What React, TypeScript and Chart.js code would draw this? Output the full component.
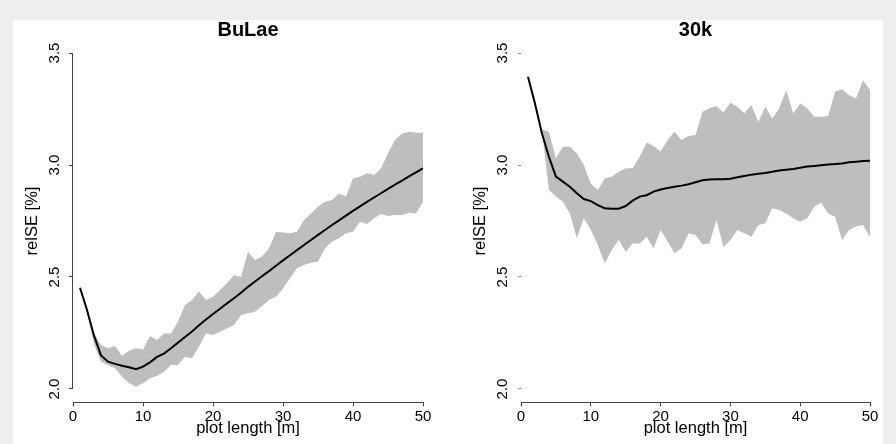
import React, { useEffect, useRef } from "react";
import { Chart, registerables } from "chart.js";

Chart.register(...registerables);

const PLOT_LENGTH = Array.from({ length: 50 }, (_, i) => i + 1);

const X_TICKS = [0, 10, 20, 30, 40, 50];
const Y_TICKS = [2.0, 2.5, 3.0, 3.5];

const BULAE_MEAN = [
  2.452, 2.353, 2.238, 2.15, 2.122, 2.112, 2.104, 2.097, 2.088, 2.1,
  2.119, 2.143, 2.158, 2.182, 2.207, 2.232, 2.257, 2.284, 2.31, 2.335,
  2.358, 2.382, 2.405, 2.43, 2.456, 2.48, 2.503, 2.526, 2.55, 2.574,
  2.597, 2.62, 2.643, 2.665, 2.688, 2.71, 2.732, 2.753, 2.774, 2.795,
  2.815, 2.835, 2.855, 2.874, 2.893, 2.912, 2.93, 2.949, 2.967, 2.985,
];
const BULAE_MAX = [
  2.452, 2.36, 2.249, 2.196, 2.182, 2.192, 2.147, 2.171, 2.182, 2.176,
  2.237, 2.219, 2.248, 2.248, 2.3, 2.375, 2.397, 2.435, 2.397, 2.412,
  2.442, 2.472, 2.509, 2.5, 2.613, 2.576, 2.591, 2.628, 2.702, 2.699,
  2.695, 2.702, 2.754, 2.784, 2.814, 2.836, 2.844, 2.873, 2.859, 2.94,
  2.948, 2.963, 2.955, 2.985, 3.052, 3.112, 3.141, 3.149, 3.144, 3.144,
];
const BULAE_MIN = [
  2.452, 2.345, 2.2, 2.122, 2.107, 2.092, 2.055, 2.025, 2.01, 2.025,
  2.048, 2.058, 2.077, 2.107, 2.107, 2.144, 2.137, 2.189, 2.249, 2.241,
  2.256, 2.271, 2.286, 2.33, 2.338, 2.345, 2.371, 2.397, 2.412, 2.449,
  2.494, 2.539, 2.554, 2.564, 2.568, 2.628, 2.658, 2.673, 2.695, 2.702,
  2.747, 2.737, 2.762, 2.781, 2.772, 2.777, 2.777, 2.787, 2.784, 2.836,
];

const K30_MEAN = [
  3.394, 3.275, 3.141, 3.037, 2.948, 2.926, 2.903, 2.874, 2.848, 2.839,
  2.821, 2.807, 2.805, 2.805, 2.817, 2.841, 2.859, 2.865, 2.881, 2.891,
  2.897, 2.903, 2.908, 2.914, 2.923, 2.932, 2.935, 2.936, 2.936, 2.939,
  2.945, 2.951, 2.957, 2.961, 2.964, 2.97, 2.975, 2.979, 2.982, 2.988,
  2.993, 2.996, 2.999, 3.002, 3.004, 3.007, 3.012, 3.015, 3.018, 3.019,
];
const K30_MAX = [
  3.394, 3.275, 3.159, 3.149, 3.03, 3.082, 3.082, 3.052, 3.0, 2.918,
  2.888, 2.94, 2.948, 2.97, 2.985, 2.985, 3.037, 3.1, 3.085, 3.06,
  3.112, 3.149, 3.112, 3.129, 3.134, 3.238, 3.253, 3.263, 3.234, 3.278,
  3.26, 3.231, 3.268, 3.193, 3.26, 3.208, 3.253, 3.335, 3.231, 3.275,
  3.253, 3.216, 3.216, 3.219, 3.327, 3.338, 3.312, 3.298, 3.379, 3.335,
];
const K30_MIN = [
  3.394, 3.275, 3.149, 2.888, 2.859, 2.836, 2.784, 2.673, 2.762, 2.71,
  2.643, 2.561, 2.621, 2.665, 2.613, 2.65, 2.65, 2.68, 2.628, 2.71,
  2.658, 2.606, 2.628, 2.695, 2.688, 2.646, 2.65, 2.754, 2.635, 2.665,
  2.71, 2.695, 2.68, 2.732, 2.74, 2.807, 2.799, 2.784, 2.762, 2.747,
  2.762, 2.814, 2.832, 2.784, 2.769, 2.665, 2.71, 2.725, 2.732, 2.677,
];

const FONT = "'Liberation Sans', Arial, sans-serif";

function pts(ys: number[]) {
  return PLOT_LENGTH.map((x, i) => ({ x, y: ys[i] }));
}

type PanelProps = {
  title: string;
  mean: number[];
  lo: number[];
  hi: number[];
  showYLine: boolean;
  yTickLen: number;
  rightPad: number;
};

function Panel({ title, mean, lo, hi, showYLine, yTickLen, rightPad }: PanelProps) {
  const ref = useRef<HTMLCanvasElement | null>(null);
  useEffect(() => {
    if (!ref.current) return;
    const yLinePlugin = {
      id: "yLine",
      afterDraw(chart: any) {
        if (!showYLine) return;
        const ys = chart.scales.y;
        const ctx = chart.ctx;
        const x = Math.round(ys.right) - 0.5;
        ctx.save();
        ctx.strokeStyle = "#444";
        ctx.lineWidth = 1;
        ctx.beginPath();
        ctx.moveTo(x, ys.getPixelForValue(Y_TICKS[0]));
        ctx.lineTo(x, ys.getPixelForValue(Y_TICKS[Y_TICKS.length - 1]));
        ctx.stroke();
        ctx.restore();
      },
    };
    const chart = new Chart(ref.current, {
      type: "line",
      data: {
        datasets: [
          {
            label: "mean",
            data: pts(mean),
            borderColor: "#000",
            borderWidth: 2,
            pointRadius: 0,
            fill: false,
            order: 0,
          },
          {
            label: "min",
            data: pts(lo),
            borderWidth: 0,
            borderColor: "rgba(0,0,0,0)",
            pointRadius: 0,
            fill: false,
            order: 2,
          },
          {
            label: "max",
            data: pts(hi),
            borderWidth: 0,
            borderColor: "rgba(0,0,0,0)",
            backgroundColor: "#bebebe",
            pointRadius: 0,
            fill: 1,
            order: 1,
          },
        ],
      },
      options: {
        animation: false,
        responsive: false,
        layout: { padding: { left: 0, right: rightPad, top: 0, bottom: 0 } },
        plugins: {
          legend: { display: false },
          tooltip: { enabled: false },
          title: {
            display: true,
            fullSize: false,
            text: title,
            color: "#000",
            font: { family: FONT, size: 20, weight: "bold", lineHeight: 1 },
            padding: { top: 20.5, bottom: -0.9 },
          },
        },
        scales: {
          x: {
            type: "linear",
            min: 0,
            max: 50,
            afterBuildTicks: (s: any) => {
              s.ticks = X_TICKS.map((v) => ({ value: v }));
            },
            afterFit: (s: any) => {
              s.height = 41.6;
            },
            border: { display: true, color: "#444", width: 1 },
            grid: {
              drawOnChartArea: false,
              drawTicks: true,
              tickLength: 4,
              color: "#444",
            },
            ticks: {
              color: "#000",
              font: { family: FONT, size: 15 },
              padding: 1.5,
              maxRotation: 0,
              autoSkip: false,
            },
            title: {
              display: true,
              text: "plot length [m]",
              color: "#000",
              font: { family: FONT, size: 16.5 },
              padding: { top: 0, bottom: 6 },
            },
          },
          y: {
            type: "linear",
            min: 1.94,
            max: 3.56,
            afterBuildTicks: (s: any) => {
              s.ticks = Y_TICKS.map((v) => ({ value: v }));
            },
            afterFit: (s: any) => {
              s.width = 73;
            },
            border: { display: false },
            grid: {
              drawOnChartArea: false,
              drawTicks: true,
              tickLength: yTickLen,
              color: showYLine ? "#444" : "#888",
            },
            ticks: {
              color: "#000",
              font: { family: FONT, size: 15 },
              minRotation: 90,
              maxRotation: 90,
              crossAlign: "center",
              padding: 8 - yTickLen,
              autoSkip: false,
              callback: (v: any) => Number(v).toFixed(1),
            },
            title: {
              display: true,
              text: "relSE [%]",
              color: "#000",
              font: { family: FONT, size: 16.5 },
              padding: { top: 22.1, bottom: 0 },
            },
          },
        },
      },
      plugins: [yLinePlugin],
    } as any);
    return () => chart.destroy();
  }, []);
  return (
    <canvas
      ref={ref}
      width={448}
      height={444}
      style={{ width: 448, height: 444, display: "block" }}
    />
  );
}

export default function App() {
  return (
    <div
      style={{
        position: "fixed",
        left: 0,
        top: 0,
        width: 896,
        height: 444,
        background: "#eeeeee",
        overflow: "hidden",
      }}
    >
      <div
        style={{
          position: "absolute",
          left: 13,
          top: 20,
          width: 870,
          height: 424,
          background: "#ffffff",
        }}
      />
      <div style={{ position: "absolute", left: 0, top: 0 }}>
        <Panel
          title="BuLae"
          mean={BULAE_MEAN}
          lo={BULAE_MIN}
          hi={BULAE_MAX}
          showYLine={true}
          yTickLen={4}
          rightPad={25}
        />
      </div>
      <div style={{ position: "absolute", left: 448, top: 0 }}>
        <Panel
          title="30k"
          mean={K30_MEAN}
          lo={K30_MIN}
          hi={K30_MAX}
          showYLine={false}
          yTickLen={3}
          rightPad={26}
        />
      </div>
    </div>
  );
}
